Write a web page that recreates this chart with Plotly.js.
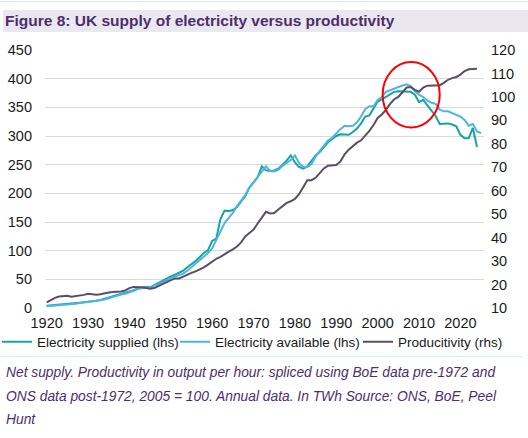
<!DOCTYPE html>
<html>
<head>
<meta charset="utf-8">
<script src="https://cdn.plot.ly/plotly-3.0.1.min.js"></script>
<style>html,body{margin:0;padding:0;background:#fff;}#chart{width:528px;height:438px;}</style>
</head>
<body>
<div id="chart"></div>
<script>
// ---- data ----
const years = [1920,1921,1922,1923,1924,1925,1926,1927,1928,1929,
1930,1931,1932,1933,1934,1935,1936,1937,1938,1939,
1940,1941,1942,1943,1944,1945,1946,1947,1948,1949,
1950,1951,1952,1953,1954,1955,1956,1957,1958,1959,
1960,1961,1962,1963,1964,1965,1966,1967,1968,1969,
1970,1971,1972,1973,1974,1975,1976,1977,1978,1979,
1980,1981,1982,1983,1984,1985,1986,1987,1988,1989,
1990,1991,1992,1993,1994,1995,1996,1997,1998,1999,
2000,2001,2002,2003,2004,2005,2006,2007,2008,2009,
2010,2011,2012,2013,2014,2015,2016,2017,2018,2019,
2020,2021,2022,2023,2024,2025];

const supplied = [4,4.5,5,5.5,6,6.5,7,8,9,10,
10.5,11.5,12.5,14,16,18,20.5,23,24.5,26,
28,31,34,36,37,36,40,43,47,51,
55,58,61,65,71,76,82,89,96,101,
117,121,155,170,169,171,176,186,195,210,
219,228,247,240,239,240,243,250,257,266,
254,246,243,247,256,266,272,280,289,295,
300,303,302,302,307,313,322,334,336,348,
360,364,368,372,377,378,378,378,377,372,
359,363,353,343,335,321,322,322,320,317,
302,296,296,314,281];

const available = [3,3.5,4,4.5,5,5.5,6.5,7.5,8.5,9.5,
10,11,12,13.5,15,17,19.5,22,23.5,25,
27,30,33,35,36,35,39,41,45,48,
52,55,57,60,65,71,77,83,89,96,
104,118,132,148,157,166,178,188,197,210,
220,229,238,247,239,238,241,248,253,258,
266,253,246,246,251,264,274,283,292,297,
305,312,318,317,318,324,334,347,352,352,
363,368,377,380,383,385,388,390,387,378,
372,368,362,358,356,346,343,343,340,337,
334,328,318,321,308,305];

const productivity = [12.4,13.5,14.3,14.9,15.2,15.2,14.8,15.0,15.3,15.6,
16.1,15.9,15.7,15.9,16.4,16.6,16.8,16.8,17.0,17.5,
18.5,19.0,19.0,18.8,18.5,18.2,18.5,19.2,20.2,21.0,
21.8,22.6,22.6,23.5,24.3,25.0,25.6,26.4,27.3,28.5,
29.8,31.0,31.8,33.0,34.0,35.0,36.2,38.0,40.5,42.0,
43.4,46.0,48.5,51.0,50.3,50.5,52.0,53.5,54.8,55.5,
56.5,58.5,61.5,64.5,64.5,65.5,67.5,69.5,70.7,70.7,
71.0,72.5,75.5,77.5,79.0,80.5,81.5,83.5,85.5,88.0,
91.0,92.5,94.5,97.0,99.0,100.0,101.8,104.0,104.2,103.0,
102.2,104.0,104.8,104.8,104.8,105.0,106.0,107.3,108.0,108.5,
109.5,111.0,111.8,112.0,112.0];

const seriesNames = ['Electricity supplied (lhs)', 'Electricity available (lhs)', 'Producitivity (rhs)'];
const xTicks = [1920,1930,1940,1950,1960,1970,1980,1990,2000,2010,2020];
const titleText = 'Figure 8: UK supply of electricity versus productivity';
const noteLines = [
  'Net supply. Productivity in output per hour: spliced using BoE data pre-1972 and',
  'ONS data post-1972, 2005 = 100. Annual data. In TWh Source: ONS, BoE, Peel',
  'Hunt'
];
// highlight circle (years / lhs TWh)
const circleX = [2001.2, 2015.0];
const circleY = [315, 429];

// ---- chart ----
const FONT = 'Liberation Sans, Arial, sans-serif';
const tealC = '#14a59b', blueC = '#4fb3e6', prodC = '#5c4d66';
const purple = '#4b2f6c';

const traces = [
  {x: years.slice(0, supplied.length), y: supplied, name: seriesNames[0], type: 'scatter', mode: 'lines',
   line: {color: tealC, width: 2}, yaxis: 'y', legend: 'legend'},
  {x: years.slice(0, available.length), y: available, name: seriesNames[1], type: 'scatter', mode: 'lines',
   line: {color: blueC, width: 2}, yaxis: 'y', legend: 'legend2'},
  {x: years.slice(0, productivity.length), y: productivity, name: seriesNames[2], type: 'scatter', mode: 'lines',
   line: {color: prodC, width: 2}, yaxis: 'y2', legend: 'legend3'}
];

const W = 528, H = 438, L = 45, R = 44, T = 50, B = 130;
const ph = H - T - B, pw = W - L - R;
const py = v => (H - B - v) / ph;      // pixel y -> paper y
const px = v => (v - L) / pw;          // pixel x -> paper x

const annotations = noteLines.map((t, i) => ({
  text: t, xref: 'paper', yref: 'paper', x: px(4), y: py([372, 396, 420][i]),
  xanchor: 'left', yanchor: 'middle', showarrow: false,
  font: {family: FONT, size: 13.8, color: purple, style: 'italic'}
}));

const legendBase = (leftPx) => ({
  orientation: 'h', x: px(leftPx), xanchor: 'left', y: py(342), yanchor: 'middle',
  font: {family: FONT, size: 13.5, color: '#1a1a1a'}, itemwidth: 30,
  bgcolor: 'rgba(0,0,0,0)', borderwidth: 0
});

const layout = {
  width: W, height: H,
  margin: {l: L, r: R, t: T, b: B, pad: 0, autoexpand: false},
  paper_bgcolor: '#fff', plot_bgcolor: '#fff',
  font: {family: FONT, size: 14.5, color: '#1a1a1a'},
  title: {text: '<b>' + titleText + '</b>', xref: 'container', yref: 'container',
          x: 5 / W, xanchor: 'left', y: 1 - 21 / H, yanchor: 'middle',
          font: {family: FONT, size: 15.5, color: purple}},
  showlegend: true,
  legend: legendBase(-3),
  legend2: legendBase(175),
  legend3: legendBase(358),
  xaxis: {range: [1919.6, 2025.7], tickvals: xTicks, ticktext: xTicks.map(String),
          showgrid: false, zeroline: false, showline: false, ticks: '', ticklabelstandoff: 4,
          fixedrange: true},
  yaxis: {range: [0, 450], dtick: 50, tick0: 0, showgrid: true, gridcolor: '#d9d9d9', gridwidth: 1,
          zeroline: false, showline: false, ticks: '', ticklabelstandoff: 12, fixedrange: true},
  yaxis2: {range: [10, 120], dtick: 10, tick0: 10, overlaying: 'y', side: 'right', showgrid: false,
           zeroline: false, showline: false, ticks: '', ticklabelstandoff: 6, fixedrange: true},
  shapes: [
    {type: 'rect', xref: 'paper', yref: 'paper', x0: px(3), x1: px(528), y0: py(32), y1: py(10),
     fillcolor: '#ebe7ee', line: {width: 0}, layer: 'below'},
    {type: 'line', xref: 'paper', yref: 'paper', x0: px(0), x1: px(528), y0: py(1.5), y1: py(1.5),
     line: {color: '#d7eeee', width: 1}},
    {type: 'line', xref: 'paper', yref: 'paper', x0: px(0), x1: px(522), y0: py(356.5), y1: py(356.5),
     line: {color: '#d7eeee', width: 1}},
    {type: 'circle', xref: 'x', yref: 'y', x0: circleX[0], x1: circleX[1], y0: circleY[0], y1: circleY[1],
     line: {color: '#ff0000', width: 2}, layer: 'above'}
  ],
  annotations: annotations
};

Plotly.newPlot('chart', traces, layout, {displayModeBar: false, staticPlot: true});
</script>
</body>
</html>
